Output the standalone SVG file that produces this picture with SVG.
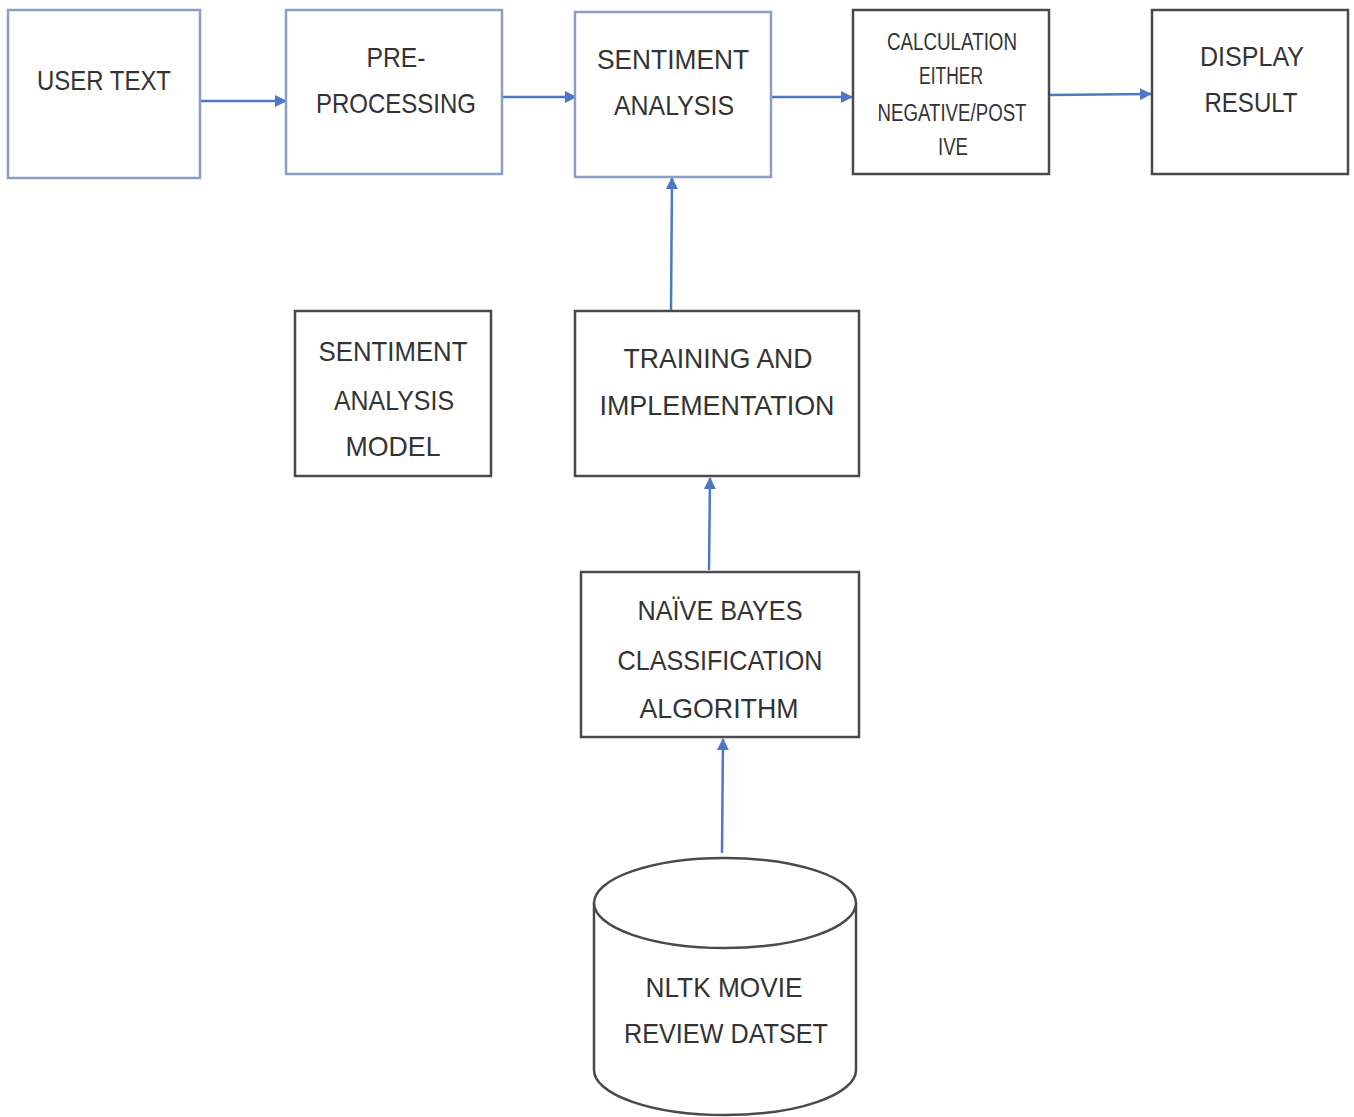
<svg xmlns="http://www.w3.org/2000/svg" width="1354" height="1117" viewBox="0 0 1354 1117">
<style>
.bb{fill:#fff;stroke:#8a9fc6;stroke-width:2.5}
.db{fill:#fff;stroke:#4a4a4a;stroke-width:2.5}
.t{font-family:"Liberation Sans",Arial,sans-serif;font-size:28px;fill:#333;text-anchor:middle}
.s{font-size:23px}
.c{stroke:#4f78c4;stroke-width:2.5;fill:none;marker-end:url(#ah)}
</style>
<defs>
<marker id="ah" markerWidth="12" markerHeight="12" refX="11" refY="6" orient="auto" markerUnits="userSpaceOnUse">
<path d="M0,0 L12,6 L0,12 Z" fill="#4f78c4"/>
</marker>
</defs>
<rect width="1354" height="1117" fill="#fff"/>
<g id="connectors">
<line class="c" x1="201" y1="101" x2="286" y2="101"/>
<line class="c" x1="503" y1="97" x2="576" y2="97"/>
<line class="c" x1="765" y1="97" x2="852" y2="97"/>
<line class="c" x1="1048" y1="95" x2="1151" y2="94"/>
<line class="c" x1="671" y1="310" x2="672" y2="178"/>
<line class="c" x1="709" y1="570" x2="710" y2="478"/>
<line class="c" x1="722" y1="853" x2="723" y2="739"/>
</g>
<g id="user-text">
<rect class="bb" x="8" y="10" width="192" height="168"/>
<text class="t" x="104" y="90" textLength="134" lengthAdjust="spacingAndGlyphs">USER TEXT</text>
</g>
<g id="pre-processing">
<rect class="bb" x="286" y="10" width="216" height="164"/>
<text class="t" x="396" y="67" textLength="59" lengthAdjust="spacingAndGlyphs">PRE-</text>
<text class="t" x="396" y="113" textLength="160" lengthAdjust="spacingAndGlyphs">PROCESSING</text>
</g>
<g id="sentiment-analysis">
<rect class="bb" x="575" y="12" width="196" height="165"/>
<text class="t" x="673" y="69" textLength="152" lengthAdjust="spacingAndGlyphs">SENTIMENT</text>
<text class="t" x="674" y="115" textLength="120" lengthAdjust="spacingAndGlyphs">ANALYSIS</text>
</g>
<g id="calculation">
<rect class="db" x="853" y="10" width="196" height="164"/>
<text class="t s" x="952" y="50" textLength="130" lengthAdjust="spacingAndGlyphs">CALCULATION</text>
<text class="t s" x="951" y="84" textLength="64" lengthAdjust="spacingAndGlyphs">EITHER</text>
<text class="t s" x="952" y="121" textLength="149" lengthAdjust="spacingAndGlyphs">NEGATIVE/POST</text>
<text class="t s" x="953" y="155" textLength="30" lengthAdjust="spacingAndGlyphs">IVE</text>
</g>
<g id="display-result">
<rect class="db" x="1152" y="10" width="196" height="164"/>
<text class="t" x="1252" y="66" textLength="104" lengthAdjust="spacingAndGlyphs">DISPLAY</text>
<text class="t" x="1251" y="112" textLength="93" lengthAdjust="spacingAndGlyphs">RESULT</text>
</g>
<g id="sentiment-analysis-model">
<rect class="db" x="295" y="311" width="196" height="165"/>
<text class="t" x="393" y="361" textLength="149" lengthAdjust="spacingAndGlyphs">SENTIMENT</text>
<text class="t" x="394" y="410" textLength="120" lengthAdjust="spacingAndGlyphs">ANALYSIS</text>
<text class="t" x="393" y="456" textLength="95" lengthAdjust="spacingAndGlyphs">MODEL</text>
</g>
<g id="training">
<rect class="db" x="575" y="311" width="284" height="165"/>
<text class="t" x="718" y="368" textLength="189" lengthAdjust="spacingAndGlyphs">TRAINING AND</text>
<text class="t" x="717" y="415" textLength="235" lengthAdjust="spacingAndGlyphs">IMPLEMENTATION</text>
</g>
<g id="naive-bayes">
<rect class="db" x="581" y="572" width="278" height="165"/>
<text class="t" x="720" y="620" textLength="165" lengthAdjust="spacingAndGlyphs">NAÏVE BAYES</text>
<text class="t" x="720" y="670" textLength="205" lengthAdjust="spacingAndGlyphs">CLASSIFICATION</text>
<text class="t" x="719" y="718" textLength="159" lengthAdjust="spacingAndGlyphs">ALGORITHM</text>
</g>
<g id="dataset">
<path class="db" d="M594,903 L594,1070 A131,45 0 0 0 856,1070 L856,903"/>
<ellipse class="db" cx="725" cy="903" rx="131" ry="45"/>
<text class="t" x="724" y="997" textLength="157" lengthAdjust="spacingAndGlyphs">NLTK MOVIE</text>
<text class="t" x="726" y="1043" textLength="204" lengthAdjust="spacingAndGlyphs">REVIEW DATSET</text>
</g>
</svg>
